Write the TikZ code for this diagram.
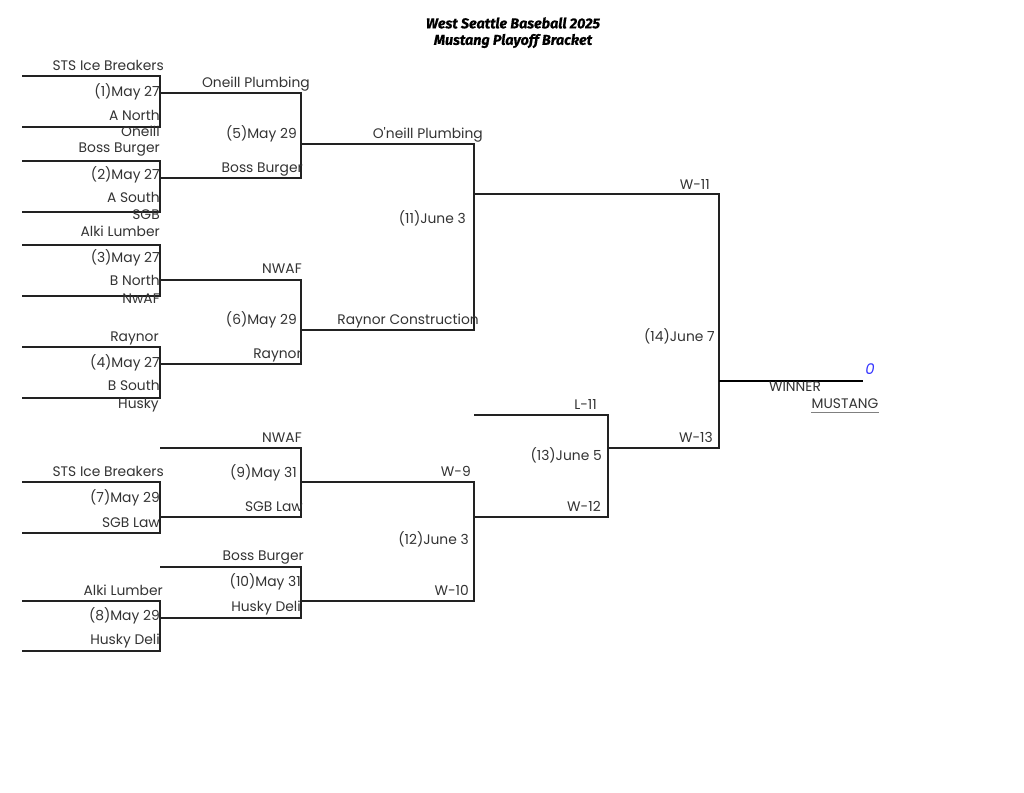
\documentclass[tikz,border=0pt]{standalone}
\usepackage{fontspec}
\setmainfont{Poppins}
\newfontfamily\titlefont{Fira Sans}[BoldItalicFeatures={FakeBold=0.6}]
\definecolor{ink}{HTML}{333333}
\definecolor{line}{HTML}{222222}
\definecolor{score}{HTML}{3333FF}
\tikzset{
  team/.style={anchor=east, inner sep=0pt, text=ink, text height=0.72em, text depth=0pt,
    font=\fontsize{10.7}{12}\selectfont},
  bracket/.style={draw=line, line width=0.9pt},
}
\begin{document}
\begin{tikzpicture}[x=0.7734pt,y=-0.7734pt]
        \useasboundingbox (0,0) rectangle (1024,792);
        % Title
        \node[inner sep=0pt, font=\titlefont\bfseries\itshape\fontsize{11.1}{13}\selectfont] (title1) at (513,23) {West Seattle Baseball 2025};
        \node[inner sep=0pt, font=\titlefont\bfseries\itshape\fontsize{11.1}{13}\selectfont] (title2) at (513,41) {Mustang Playoff Bracket};

        % Bracket points
        \coordinate (r1a) at (22,76);  \coordinate (r1b) at (22,127); \coordinate (m1) at (160,93);
        \coordinate (r2a) at (22,161); \coordinate (r2b) at (22,212); \coordinate (m2) at (160,178);
        \coordinate (r3a) at (22,245); \coordinate (r3b) at (22,296); \coordinate (m3) at (160,280);
        \coordinate (r4a) at (22,347); \coordinate (r4b) at (22,398); \coordinate (m4) at (160,364);
        \coordinate (r7a) at (22,482); \coordinate (r7b) at (22,533); \coordinate (m7) at (160,517);
        \coordinate (r8a) at (22,601); \coordinate (r8b) at (22,651); \coordinate (m8) at (160,618);
        \coordinate (t9) at (160,448);  \coordinate (t10) at (160,567);
        \coordinate (m5) at (301,144); \coordinate (m6) at (301,330);
        \coordinate (m9) at (301,482); \coordinate (m10) at (301,601);
        \coordinate (m11) at (474,194); \coordinate (m12) at (474,517); \coordinate (l11) at (474,415);
        \coordinate (m13) at (608,448); \coordinate (m14) at (719,381); \coordinate (win) at (863,381);

        % First round
        \draw[bracket] (r1a) -| (m1) |- (r1b);
        \draw[bracket] (r2a) -| (m2) |- (r2b);
        \draw[bracket] (r3a) -| (m3) |- (r3b);
        \draw[bracket] (r4a) -| (m4) |- (r4b);
        \draw[bracket] (r7a) -| (m7) |- (r7b);
        \draw[bracket] (r8a) -| (m8) |- (r8b);

        % Later rounds
        \draw[bracket] (m1) -| (m5) |- (m2);
        \draw[bracket] (m3) -| (m6) |- (m4);
        \draw[bracket] (t9) -| (m9) |- (m7);
        \draw[bracket] (t10) -| (m10) |- (m8);
        \draw[bracket] (m5) -| (m11) |- (m6);
        \draw[bracket] (m9) -| (m12) |- (m10);
        \draw[bracket] (l11) -| (m13) |- (m12);
        \draw[bracket] (m11) -| (m14) |- (m13);
        \draw[draw=black, line width=2pt] (m14) -- (win);

        % Game 1 and 2
        \node[team] (g1top) at (164,66) {STS Ice Breakers};
        \node[team] (g1day) at (160,92) {(1)May 27};
        \node[team] (g1bot) at (160,116) {A North};
        \node[team] (g1win) at (160,132) {Oneill};
        \node[team] (g2top) at (160,148) {Boss Burger};
        \node[team] (g2day) at (160,175) {(2)May 27};
        \node[team] (g2bot) at (160,198) {A South};
        \node[team] (g2win) at (160,215) {SGB};
        % Game 3 and 4
        \node[team] (g3top) at (160,232) {Alki Lumber};
        \node[team] (g3day) at (160,258) {(3)May 27};
        \node[team] (g3bot) at (160,281) {B North};
        \node[team] (g3win) at (160,299) {NwAF};
        \node[team] (g4top) at (159,337) {Raynor};
        \node[team] (g4day) at (160,363) {(4)May 27};
        \node[team] (g4bot) at (160,386) {B South};
        \node[team] (g4win) at (159,404) {Husky};
        % Game 5 and 6
        \node[team] (g5top) at (310,83) {Oneill Plumbing};
        \node[team] (g5day) at (297,134) {(5)May 29};
        \node[team] (g5bot) at (303,168) {Boss Burger};
        \node[team] (g6top) at (302,269) {NWAF};
        \node[team] (g6day) at (297,320) {(6)May 29};
        \node[team] (g6bot) at (302,354) {Raynor};
        % Game 11
        \node[team] (g11top) at (483,134) {O\textquotesingle neill Plumbing};
        \node[team] (g11day) at (466,219) {(11)June 3};
        \node[team] (g11bot) at (479,320) {Raynor Construction};
        % Game 7 and 8
        \node[team] (g7top) at (164,472) {STS Ice Breakers};
        \node[team] (g7day) at (160,498) {(7)May 29};
        \node[team] (g7bot) at (160,523) {SGB Law};
        \node[team] (g8top) at (163,591) {Alki Lumber};
        \node[team] (g8day) at (160,616) {(8)May 29};
        \node[team] (g8bot) at (160,640) {Husky Deli};
        % Game 9 and 10
        \node[team] (g9top) at (302,438) {NWAF};
        \node[team] (g9day) at (297,473) {(9)May 31};
        \node[team] (g9bot) at (303,507) {SGB Law};
        \node[team] (g10top) at (304,556) {Boss Burger};
        \node[team] (g10day) at (301,582) {(10)May 31};
        \node[team] (g10bot) at (301,607) {Husky Deli};
        % Game 12 and 13
        \node[team] (g12top) at (471,472) {W-9};
        \node[team] (g12day) at (469,540) {(12)June 3};
        \node[team] (g12bot) at (469,591) {W-10};
        \node[team] (g13top) at (597,405) {L-11};
        \node[team] (g13day) at (602,456) {(13)June 5};
        \node[team] (g13bot) at (601,507) {W-12};
        % Game 14
        \node[team] (g14top) at (710,185) {W-11};
        \node[team] (g14day) at (715,337) {(14)June 7};
        \node[team] (g14bot) at (713,438) {W-13};

        % Winner
        \node[team, anchor=west, text=score, font=\itshape\fontsize{11.5}{12}\selectfont] (score) at (865,370) {0};
        \node[team, anchor=center] (winner) at (795,387) {WINNER};
        \node[team, anchor=center] (champ) at (845,404) {MUSTANG};
        \draw[gray, line width=0.6pt] ([yshift=-2.5pt]champ.south west) -- ([yshift=-2.5pt]champ.south east);
    \end{tikzpicture}
\end{document}
